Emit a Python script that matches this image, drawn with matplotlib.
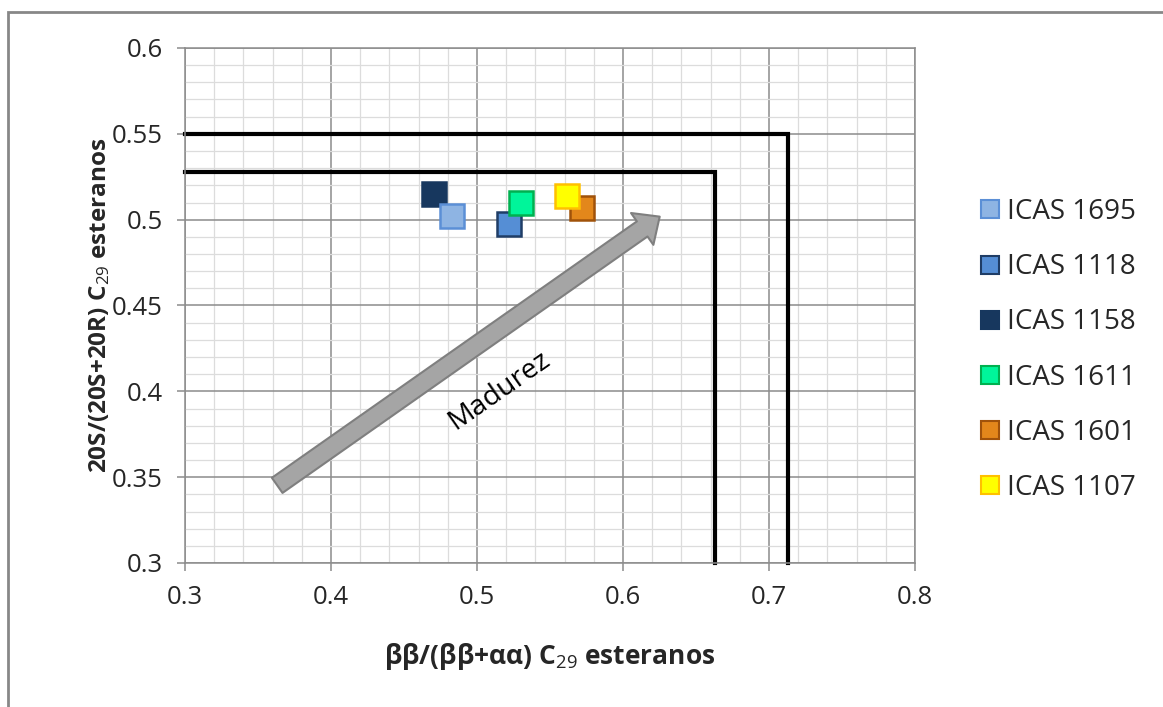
import matplotlib
matplotlib.use("Agg")
import matplotlib.pyplot as plt
from matplotlib.ticker import MultipleLocator, FormatStrFormatter
from matplotlib.patches import FancyArrowPatch, Rectangle
from matplotlib.lines import Line2D

plt.rcParams['font.family'] = ['Open Sans', 'DejaVu Sans']
plt.rcParams['mathtext.fontset'] = 'custom'
plt.rcParams['mathtext.rm'] = 'Open Sans'
plt.rcParams['mathtext.it'] = 'Open Sans'
plt.rcParams['mathtext.bf'] = 'Open Sans:bold'

# muestras (orden de la leyenda)
muestras = ["ICAS 1695", "ICAS 1118", "ICAS 1158", "ICAS 1611", "ICAS 1601", "ICAS 1107"]
bb_aa = [0.483, 0.522, 0.4705, 0.530, 0.572, 0.5615]
s_sr = [0.502, 0.4975, 0.515, 0.5097, 0.5068, 0.5138]
relleno = ["#8EB4E3", "#558ED5", "#17375E", "#00F59A", "#E3871B", "#FFFF00"]
borde = ["#5B8FD6", "#1F3D66", "#17375E", "#00B050", "#A0520A", "#FFC000"]
capa = [4, 4, 3, 5, 5, 6]

# limites de ventana (lineas negras)
lim_ext_x, lim_ext_y = 0.713, 0.55
lim_int_x, lim_int_y = 0.663, 0.528

# flecha de madurez
flecha_ini = (0.3616, 0.3443)
flecha_fin = (0.6267, 0.5027)

fig = plt.figure(figsize=(11.63, 7.07), dpi=100)
ax = fig.add_axes([185 / 1163, 1 - 563 / 707, 730 / 1163, 515 / 707])

ax.set_xlim(0.3, 0.8)
ax.set_ylim(0.3, 0.6)
ax.xaxis.set_major_locator(MultipleLocator(0.1))
ax.xaxis.set_minor_locator(MultipleLocator(0.02))
ax.yaxis.set_major_locator(MultipleLocator(0.05))
ax.yaxis.set_minor_locator(MultipleLocator(0.01))
ax.xaxis.set_major_formatter(FormatStrFormatter('%g'))
ax.yaxis.set_major_formatter(FormatStrFormatter('%g'))

ax.grid(which='minor', color='#DCDCDC', lw=0.9)
ax.grid(which='major', color='#8C8C8C', lw=1.1)
ax.set_axisbelow(True)
for sp in ax.spines.values():
    sp.set_color('#8C8C8C')
    sp.set_linewidth(1.1)
ax.tick_params(which='major', length=6, width=1.1, color='#8C8C8C',
               labelsize=18.5, labelcolor='#262626', pad=10)
ax.tick_params(which='minor', length=0)

# ventanas
ax.plot([0.3, lim_ext_x, lim_ext_x], [lim_ext_y, lim_ext_y, 0.3], color='black', lw=3,
        solid_joinstyle='miter', clip_on=False, zorder=2)
ax.plot([0.3, lim_int_x, lim_int_x], [lim_int_y, lim_int_y, 0.3], color='black', lw=3,
        solid_joinstyle='miter', clip_on=False, zorder=2)

# flecha
arr = FancyArrowPatch(flecha_ini, flecha_fin,
                      arrowstyle='simple,head_width=2.0,head_length=1.1,tail_width=0.95',
                      mutation_scale=14, facecolor='#A5A5A5', edgecolor='#7F7F7F',
                      lw=1.5, zorder=2.5)
ax.add_patch(arr)
ax.text(0.5155, 0.4005, "Madurez", rotation=35, ha='center', va='center',
        fontsize=20.5, color='black', rotation_mode='anchor', zorder=3)

# puntos
for m, x, y, fc, ec, z in zip(muestras, bb_aa, s_sr, relleno, borde, capa):
    ax.plot([x], [y], ls='none', marker='s', ms=17, mfc=fc, mec=ec, mew=1.8, zorder=z)

handles = [Line2D([], [], ls='none', marker='s', ms=13, mfc=fc, mec=ec, mew=1.5)
           for fc, ec in zip(relleno, borde)]
leg = fig.legend(handles, muestras, loc='upper left', bbox_to_anchor=(982 / 1163, 1 - 198 / 707),
                 frameon=False, fontsize=20, handlelength=0.6, handletextpad=0.3,
                 labelspacing=0.98, borderpad=0, borderaxespad=0)
for t in leg.get_texts():
    t.set_color('#262626')

ax.set_xlabel(r"ββ/(ββ+αα) C$_{29}$ esteranos", fontsize=19, fontweight='bold',
              color='#262626', va='center')
ax.xaxis.set_label_coords(0.5, (563 - 657) / 515)
ax.set_ylabel(r"20S/(20S+20R) C$_{29}$ esteranos", fontsize=17.5, fontweight='bold',
              color='#262626', va='center')
ax.yaxis.set_label_coords((100 - 185) / 730, 0.5)

# marco del grafico
fig.patches.append(Rectangle((8 / 1163, -0.2), 1.3, 1.2 - 12 / 707, transform=fig.transFigure,
                             fill=False, edgecolor='#878787', lw=2, zorder=0))

fig.savefig("out.png", dpi=100)
